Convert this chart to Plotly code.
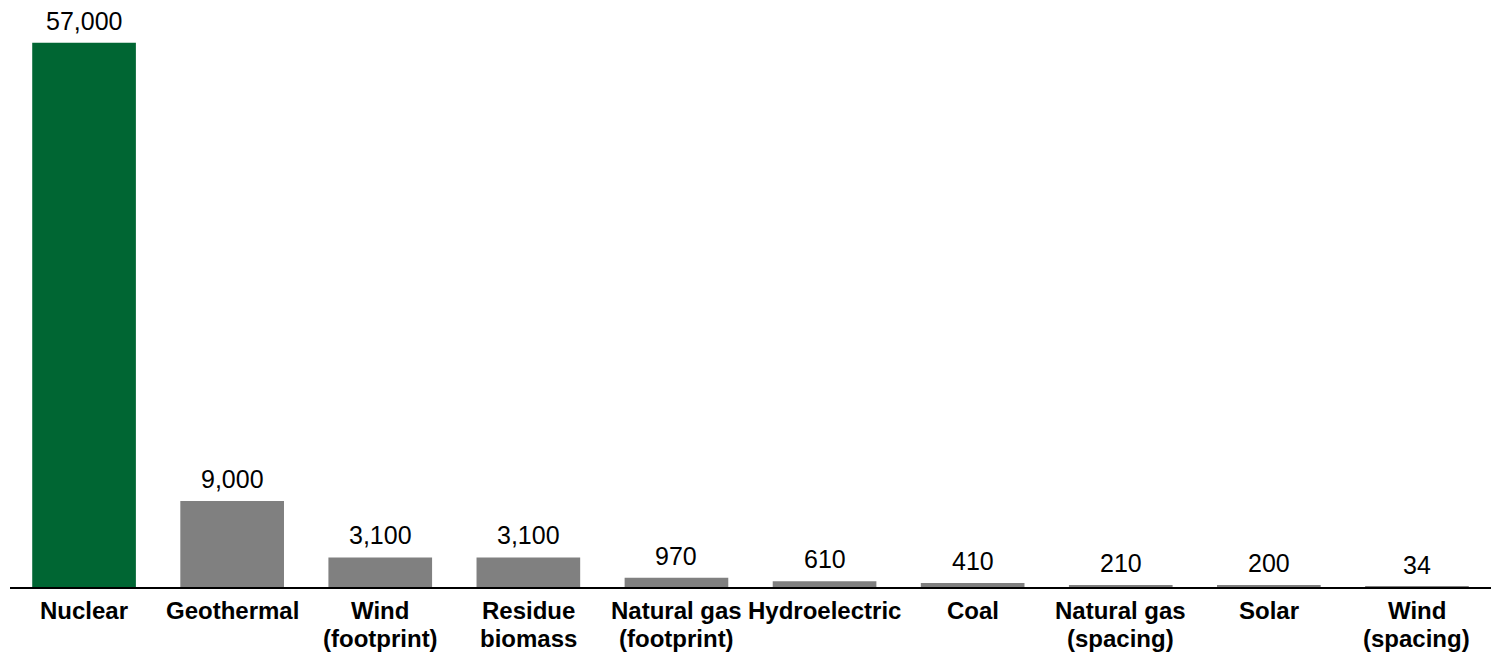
import plotly.graph_objects as go

line1 = ["Nuclear", "Geothermal", "Wind", "Residue", "Natural gas",
         "Hydroelectric", "Coal", "Natural gas", "Solar", "Wind"]
line2 = ["", "", "(footprint)", "biomass", "(footprint)",
         "", "", "(spacing)", "", "(spacing)"]
values = [57000, 9000, 3100, 3100, 970, 610, 410, 210, 200, 34]
colors = ["#006633"] + ["#808080"] * 9

FONT = "Liberation Sans, Arial, sans-serif"
xs = list(range(len(values)))

fig = go.Figure(go.Bar(
    x=xs,
    y=values,
    marker=dict(color=colors, line=dict(width=0)),
    hoverinfo="skip",
))

annotations = []
for i, v in enumerate(values):
    annotations.append(dict(
        x=i, y=v, xref="x", yref="y", text=f"{v:,}", showarrow=False,
        yanchor="bottom", yshift=6,
        font=dict(family=FONT, size=25, color="#000000"),
    ))
for i in xs:
    annotations.append(dict(
        x=i, y=0, xref="x", yref="paper", text=f"<b>{line1[i]}</b>", showarrow=False,
        yanchor="top", yshift=-8,
        font=dict(family=FONT, size=24, color="#000000"),
    ))
    if line2[i]:
        annotations.append(dict(
            x=i, y=0, xref="x", yref="paper", text=f"<b>{line2[i]}</b>", showarrow=False,
            yanchor="top", yshift=-36,
            font=dict(family=FONT, size=24, color="#000000"),
        ))

fig.update_layout(
    width=1491, height=648,
    margin=dict(l=2, r=8, t=2, b=69, autoexpand=False),
    plot_bgcolor="white", paper_bgcolor="white",
    bargap=0.30,
    showlegend=False,
    font=dict(family=FONT, color="#000000"),
    annotations=annotations,
    xaxis=dict(
        showticklabels=False, automargin=False,
        showline=True, linecolor="#000000", linewidth=2,
        ticks="", showgrid=False, zeroline=False,
        range=[-0.5, len(values) - 0.5],
    ),
    yaxis=dict(visible=False, range=[0, 60424], showgrid=False, zeroline=False,
               automargin=False),
)

fig.write_html("out.html")
